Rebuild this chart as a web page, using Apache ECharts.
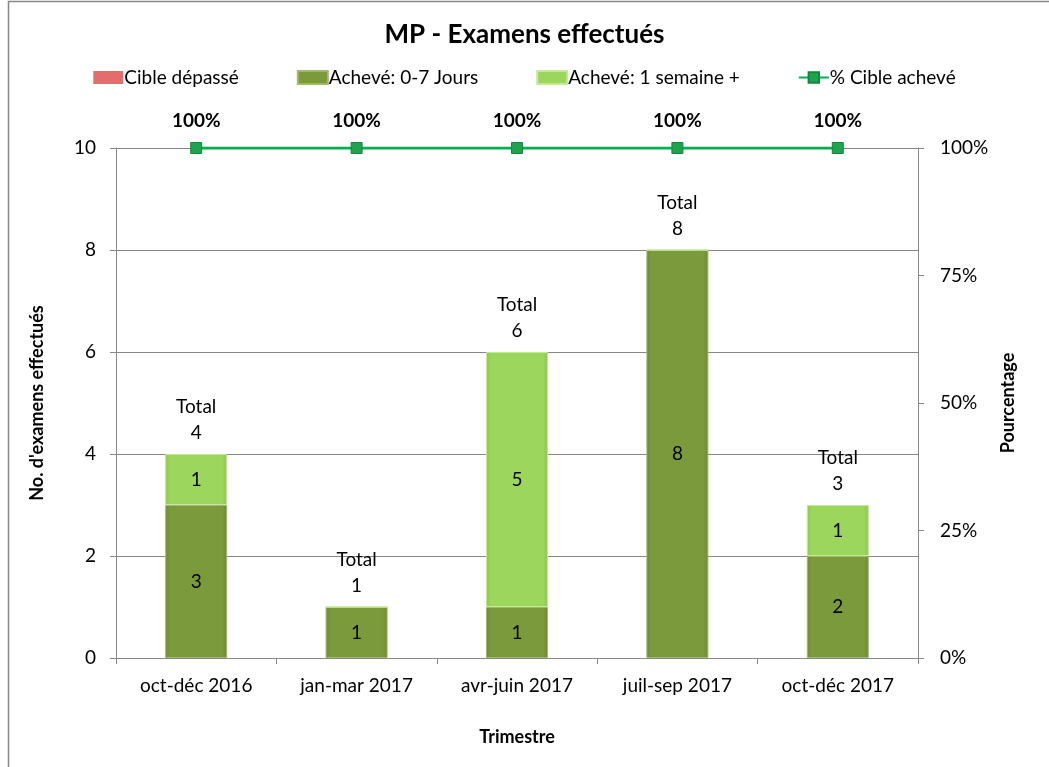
<!DOCTYPE html>
<html>
<head>
<meta charset="utf-8">
<script src="https://cdn.jsdelivr.net/npm/echarts@6/dist/echarts.min.js"></script>
<style>
  html, body { margin: 0; padding: 0; background: #fff; }
  #chart { width: 1049px; height: 767px; }
</style>
</head>
<body>
<div id="chart"></div>
<script>
// trimestres
var categories = ['oct-déc 2016', 'jan-mar 2017', 'avr-juin 2017', 'juil-sep 2017', 'oct-déc 2017']
// séries empilées
var cibleDepasse = [0, 0, 0, 0, 0]
var acheve07 = [3, 1, 1, 8, 2]
var acheveSemaine = [1, 0, 5, 0, 1]
// totaux affichés au-dessus des barres
var totals = [4, 1, 6, 8, 3]
// % cible achevé (axe de droite)
var pctCible = [100, 100, 100, 100, 100]

var FONT = 'Lato'

var chart = echarts.init(document.getElementById('chart'))

function barLabel(p) {
  return p.value ? String(p.value) : ''
}

var option = {
  backgroundColor: '#fff',
  textStyle: { fontFamily: FONT, color: '#000' },
  graphic: [{
    type: 'polyline',
    shape: { points: [[8.5, 767], [8.5, 1.5], [1049, 1.5]] },
    style: { stroke: '#888', lineWidth: 1.5, fill: null },
    silent: true
  }],
  title: {
    text: 'MP - Examens effectués',
    left: 'center',
    top: 17,
    textStyle: { fontFamily: FONT, fontSize: 26, fontWeight: 'bold', color: '#000' }
  },
  legend: {
    top: 63,
    left: 'center',
    itemWidth: 30,
    itemHeight: 13,
    itemGap: 58,
    textStyle: { fontFamily: FONT, fontSize: 19, color: '#000', padding: [0, 0, 0, -4] },
    data: [
      { name: 'Cible dépassé', icon: 'rect' },
      { name: 'Achevé: 0-7 Jours', icon: 'rect' },
      { name: 'Achevé: 1 semaine +', icon: 'rect' },
      { name: '% Cible achevé' }
    ]
  },
  grid: { left: 116, right: 131, top: 148, bottom: 109 },
  xAxis: {
    type: 'category',
    data: categories,
    name: 'Trimestre',
    nameLocation: 'middle',
    nameGap: 70,
    nameTextStyle: { fontFamily: FONT, fontSize: 18, fontWeight: 'bold', color: '#000' },
    axisLine: { lineStyle: { color: '#888' } },
    axisTick: { show: true, length: 6, lineStyle: { color: '#888' } },
    axisLabel: { fontFamily: FONT, fontSize: 19, color: '#000', margin: 18 }
  },
  yAxis: [{
    type: 'value',
    min: 0,
    max: 10,
    interval: 2,
    name: "No. d'examens effectués",
    nameLocation: 'middle',
    nameGap: 70,
    nameTextStyle: { fontFamily: FONT, fontSize: 18, fontWeight: 'bold', color: '#000' },
    axisLine: { show: true, lineStyle: { color: '#888' } },
    axisTick: { show: true, length: 6, lineStyle: { color: '#888' } },
    axisLabel: { fontFamily: FONT, fontSize: 19, color: '#000', margin: 20 },
    splitLine: { lineStyle: { color: '#888', width: 1 } }
  }, {
    type: 'value',
    min: 0,
    max: 100,
    interval: 25,
    name: 'Pourcentage',
    nameLocation: 'middle',
    nameGap: 80,
    nameRotate: 90,
    nameTextStyle: { fontFamily: FONT, fontSize: 18, fontWeight: 'bold', color: '#000' },
    axisLine: { show: true, lineStyle: { color: '#888' } },
    axisTick: { show: true, length: 6, lineStyle: { color: '#888' } },
    axisLabel: { fontFamily: FONT, fontSize: 19, color: '#000', margin: 22, formatter: '{value}%' },
    splitLine: { show: false }
  }],
  series: [
    {
      name: 'Cible dépassé',
      type: 'bar',
      stack: 'tot',
      barWidth: 62,
      data: cibleDepasse,
      itemStyle: { color: '#E46C6C', borderWidth: 0 },
      label: { show: true, formatter: barLabel, fontFamily: FONT, fontSize: 19, color: '#000' }
    },
    {
      name: 'Achevé: 0-7 Jours',
      type: 'bar',
      stack: 'tot',
      barWidth: 62,
      data: acheve07,
      itemStyle: {
        color: new echarts.graphic.LinearGradient(0, 0, 1, 0, [
          { offset: 0, color: '#6E8A36' },
          { offset: 0.08, color: '#7A9A3C' },
          { offset: 0.92, color: '#7A9A3C' },
          { offset: 1, color: '#6E8A36' }
        ]),
        borderColor: '#9FB86A',
        borderWidth: 1
      },
      label: { show: true, formatter: barLabel, fontFamily: FONT, fontSize: 19, color: '#000' }
    },
    {
      name: 'Achevé: 1 semaine +',
      type: 'bar',
      stack: 'tot',
      barWidth: 62,
      data: acheveSemaine,
      itemStyle: {
        color: new echarts.graphic.LinearGradient(0, 0, 1, 0, [
          { offset: 0, color: '#8CC64E' },
          { offset: 0.08, color: '#9CD65C' },
          { offset: 0.92, color: '#9CD65C' },
          { offset: 1, color: '#8CC64E' }
        ]),
        borderColor: '#C4E89C',
        borderWidth: 1
      },
      label: { show: true, formatter: barLabel, fontFamily: FONT, fontSize: 19, color: '#000' }
    },
    {
      name: 'Total',
      type: 'line',
      data: totals,
      symbol: 'circle',
      symbolSize: 1,
      showSymbol: true,
      itemStyle: { color: 'rgba(0,0,0,0)' },
      lineStyle: { opacity: 0 },
      silent: true,
      label: {
        show: true,
        position: 'top',
        distance: 8,
        formatter: function (p) { return 'Total\n' + p.value },
        fontFamily: FONT,
        fontSize: 19,
        lineHeight: 26,
        color: '#000'
      },
      z: 5
    },
    {
      name: '% Cible achevé',
      type: 'line',
      yAxisIndex: 1,
      data: pctCible,
      symbol: 'rect',
      symbolSize: 11,
      lineStyle: { color: '#00B050', width: 3 },
      itemStyle: { color: '#1FA34F', borderColor: '#0E8A3C', borderWidth: 1 },
      label: {
        show: true,
        position: 'top',
        distance: 12,
        formatter: '{c}%',
        fontFamily: FONT,
        fontSize: 19,
        fontWeight: 'bold',
        color: '#000'
      },
      z: 6
    }
  ]
}

chart.setOption(option)
</script>
</body>
</html>
